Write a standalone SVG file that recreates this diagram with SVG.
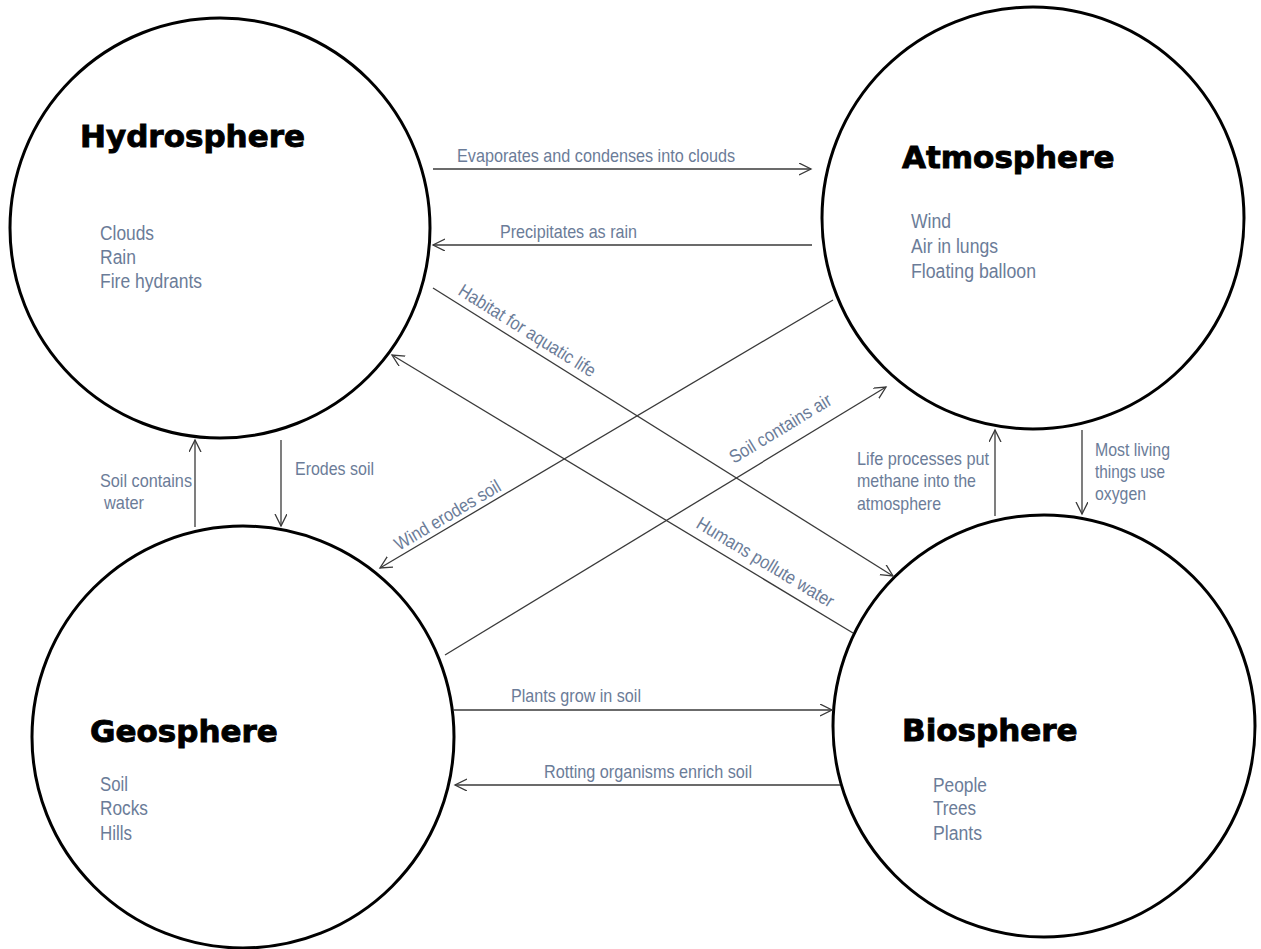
<svg xmlns="http://www.w3.org/2000/svg" width="1261" height="949" viewBox="0 0 1261 949">
  <style>
    .sphere { fill: #ffffff; stroke: #000000; stroke-width: 3; }
    .title { font-family: "DejaVu Sans", "Liberation Sans", sans-serif; font-weight: bold; font-size: 31px; fill: #000000; stroke: #000000; stroke-width: 0.9; }
    .item { font-family: "Liberation Sans", Arial, sans-serif; font-size: 20px; fill: #6b7c98; }
    .lbl { font-family: "Liberation Sans", Arial, sans-serif; font-size: 18.5px; fill: #6b7c98; }
    .conn { fill: none; stroke: #3a3a3a; stroke-width: 1.3; marker-end: url(#arr); }
  </style>
  <defs>
    <marker id="arr" markerUnits="userSpaceOnUse" markerWidth="14" markerHeight="14" refX="12" refY="6" orient="auto">
      <path d="M0,0 L12,6 L0,12" fill="none" stroke="#3a3a3a" stroke-width="1.3"/>
    </marker>
  </defs>
  <rect width="1261" height="949" fill="#ffffff"/>

  <g id="hydrosphere">
    <circle class="sphere" cx="220" cy="228" r="210"/>
    <text class="title" x="80" y="147">Hydrosphere</text>
    <text class="item" x="100" y="240" textLength="54" lengthAdjust="spacingAndGlyphs">Clouds</text>
    <text class="item" x="100" y="264" textLength="36" lengthAdjust="spacingAndGlyphs">Rain</text>
    <text class="item" x="100" y="288" textLength="102" lengthAdjust="spacingAndGlyphs">Fire hydrants</text>
  </g>

  <g id="atmosphere">
    <circle class="sphere" cx="1033" cy="218" r="211"/>
    <text class="title" x="902" y="168">Atmosphere</text>
    <text class="item" x="911" y="228" textLength="40" lengthAdjust="spacingAndGlyphs">Wind</text>
    <text class="item" x="911" y="253" textLength="87" lengthAdjust="spacingAndGlyphs">Air in lungs</text>
    <text class="item" x="911" y="278" textLength="125" lengthAdjust="spacingAndGlyphs">Floating balloon</text>
  </g>

  <g id="geosphere">
    <circle class="sphere" cx="243" cy="737" r="211"/>
    <text class="title" x="90" y="742">Geosphere</text>
    <text class="item" x="100" y="791" textLength="28" lengthAdjust="spacingAndGlyphs">Soil</text>
    <text class="item" x="100" y="815" textLength="48" lengthAdjust="spacingAndGlyphs">Rocks</text>
    <text class="item" x="100" y="840" textLength="32" lengthAdjust="spacingAndGlyphs">Hills</text>
  </g>

  <g id="biosphere">
    <circle class="sphere" cx="1044" cy="726" r="211"/>
    <text class="title" x="902" y="741">Biosphere</text>
    <text class="item" x="933" y="792" textLength="54" lengthAdjust="spacingAndGlyphs">People</text>
    <text class="item" x="933" y="815" textLength="43" lengthAdjust="spacingAndGlyphs">Trees</text>
    <text class="item" x="933" y="840" textLength="49" lengthAdjust="spacingAndGlyphs">Plants</text>
  </g>

  <g id="connectors">
    <line class="conn" x1="433" y1="169" x2="811" y2="169"/>
    <line class="conn" x1="812" y1="245" x2="433" y2="245"/>
    <line class="conn" x1="453" y1="710" x2="832" y2="710"/>
    <line class="conn" x1="840" y1="785" x2="455" y2="785"/>
    <line class="conn" x1="195" y1="527" x2="195" y2="440"/>
    <line class="conn" x1="281" y1="440" x2="281" y2="526"/>
    <line class="conn" x1="995" y1="516" x2="995" y2="430"/>
    <line class="conn" x1="1082" y1="430" x2="1082" y2="514"/>
    <line class="conn" x1="433" y1="288" x2="893" y2="576"/>
    <line class="conn" x1="853" y1="633" x2="392" y2="355"/>
    <line class="conn" x1="833" y1="300" x2="380" y2="568"/>
    <line class="conn" x1="445" y1="655" x2="886" y2="387"/>

    <text class="lbl" x="457" y="162" textLength="278" lengthAdjust="spacingAndGlyphs">Evaporates and condenses into clouds</text>
    <text class="lbl" x="500" y="238" textLength="137" lengthAdjust="spacingAndGlyphs">Precipitates as rain</text>
    <text class="lbl" x="511" y="702" textLength="130" lengthAdjust="spacingAndGlyphs">Plants grow in soil</text>
    <text class="lbl" x="544" y="778" textLength="208" lengthAdjust="spacingAndGlyphs">Rotting organisms enrich soil</text>
    <text class="lbl" x="295" y="475" textLength="79" lengthAdjust="spacingAndGlyphs">Erodes soil</text>
    <text class="lbl" x="100" y="487" textLength="92" lengthAdjust="spacingAndGlyphs">Soil contains</text>
    <text class="lbl" x="104" y="509" textLength="40" lengthAdjust="spacingAndGlyphs">water</text>
    <text class="lbl" x="857" y="465" textLength="132" lengthAdjust="spacingAndGlyphs">Life processes put</text>
    <text class="lbl" x="857" y="487" textLength="119" lengthAdjust="spacingAndGlyphs">methane into the</text>
    <text class="lbl" x="857" y="510" textLength="84" lengthAdjust="spacingAndGlyphs">atmosphere</text>
    <text class="lbl" x="1095" y="456" textLength="75" lengthAdjust="spacingAndGlyphs">Most living</text>
    <text class="lbl" x="1095" y="478" textLength="70" lengthAdjust="spacingAndGlyphs">things use</text>
    <text class="lbl" x="1095" y="500" textLength="51" lengthAdjust="spacingAndGlyphs">oxygen</text>
    <text class="lbl" x="457" y="294" transform="rotate(32 457 294)" textLength="158" lengthAdjust="spacingAndGlyphs">Habitat for aquatic life</text>
    <text class="lbl" x="695" y="527" transform="rotate(31.1 695 527)" textLength="157" lengthAdjust="spacingAndGlyphs">Humans pollute water</text>
    <text class="lbl" x="399" y="551" transform="rotate(-30.6 399 551)" textLength="120" lengthAdjust="spacingAndGlyphs">Wind erodes soil</text>
    <text class="lbl" x="734" y="464" transform="rotate(-31.3 734 464)" textLength="116" lengthAdjust="spacingAndGlyphs">Soil contains air</text>
  </g>
</svg>
